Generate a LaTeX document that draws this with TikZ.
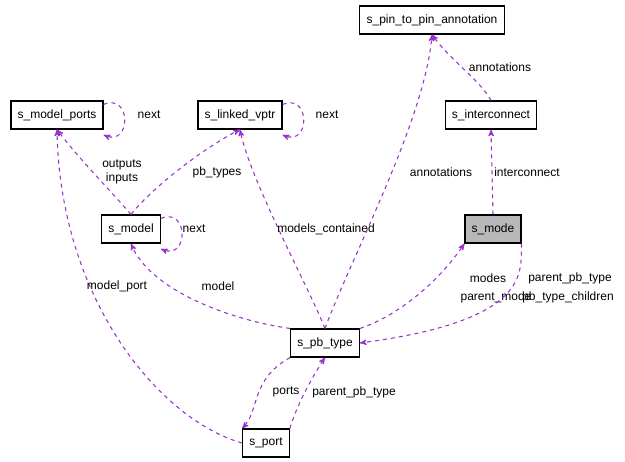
\documentclass[tikz,border=0pt]{standalone}
\usepackage{fontspec}
\setmainfont{Liberation Sans}
\usetikzlibrary{arrows,positioning}
\definecolor{edgepurple}{HTML}{9A32CD}

\begin{document}
\begin{tikzpicture}[x=0.75pt, y=-0.75pt, >=stealth', semithick,
   font=\fontsize{9}{10.5}\selectfont,
   cls/.style={rectangle, draw, thick, fill=white, inner xsep=5pt, inner ysep=0pt, minimum height=21pt},
   rel/.style={->, edgepurple, dashed, thick},
   lbl/.style={inner sep=1pt, align=center}]
  \useasboundingbox (0,0) rectangle (625,461);

  \node [cls] (pin) at (432,20) {s\_pin\_to\_pin\_annotation};
  \node [cls] (inter) at (491,115) {s\_interconnect};
  \node [cls] (mports) at (57,115) {s\_model\_ports};
  \node [cls] (lvptr) at (240,115) {s\_linked\_vptr};
  \node [cls] (model) at (131,229) {s\_model};
  \node [cls, fill=black!28] (mode) at (493,229) {s\_mode};
  \node [cls] (pbtype) at (325,343) {s\_pb\_type};
  \node [cls] (port) at (266,443) {s\_port};

  % self loops
  \draw [rel] (mports.north east) ++(0,4) .. controls +(28,-12) and +(28,12) .. ([yshift=-4]mports.south east);
  \node [lbl] at (149,115) {next};
  \draw [rel] (lvptr.north east) ++(0,4) .. controls +(28,-12) and +(28,12) .. ([yshift=-4]lvptr.south east);
  \node [lbl] at (327,115) {next};
  \draw [rel] (model.north east) ++(0,4) .. controls +(28,-12) and +(28,12) .. ([yshift=-4]model.south east);
  \node [lbl] at (194,229) {next};

  % edges
  \draw [rel] (model.north) .. controls (110,190) and (80,160) .. (mports.south);
  \node [lbl] at (122,172) {outputs\\inputs};
  \draw [rel] (model.north) .. controls (150,190) and (200,150) .. (lvptr.south);
  \node [lbl] at (217,172) {pb\_types};
  \draw [rel] (pbtype.north west) .. controls (230,320) and (150,290) .. (model.south);
  \node [lbl] at (218,286) {model};
  \draw [rel] (pbtype.north) .. controls (310,290) and (250,180) .. (lvptr.south);
  \node [lbl] at (326,229) {models\_contained};
  \draw [rel] (pbtype.north) .. controls (350,260) and (425,120) .. (pin.south);
  \node [lbl] at (441,172) {annotations};
  \draw [rel] (inter.north) .. controls (480,80) and (450,60) .. (pin.south);
  \node [lbl] at (500,67) {annotations};
  \draw [rel] (mode.north) -- (inter.south);
  \node [lbl] at (527,172) {interconnect};
  \draw [rel] (pbtype.north east) .. controls (400,315) and (440,280) .. (mode.south west);
  \node [lbl] at (488,278) {modes};
  \node [lbl] at (496,297) {parent\_mode};
  \draw [rel] (mode.south east) .. controls (520,270) and (535,320) .. (pbtype.east);
  \node [lbl] at (570,278) {parent\_pb\_type};
  \node [lbl] at (568,297) {pb\_type\_children};
  \draw [rel] (port.west) .. controls (160,420) and (60,300) .. (mports.south);
  \node [lbl] at (117,286) {model\_port};
  \draw [rel] (pbtype.south west) .. controls (250,380) and (260,410) .. (port.north west);
  \node [lbl] at (286,392) {ports};
  \draw [rel] (port.north east) .. controls (295,410) and (310,380) .. (pbtype.south);
  \node [lbl] at (354,392) {parent\_pb\_type};
\end{tikzpicture}
\end{document}
